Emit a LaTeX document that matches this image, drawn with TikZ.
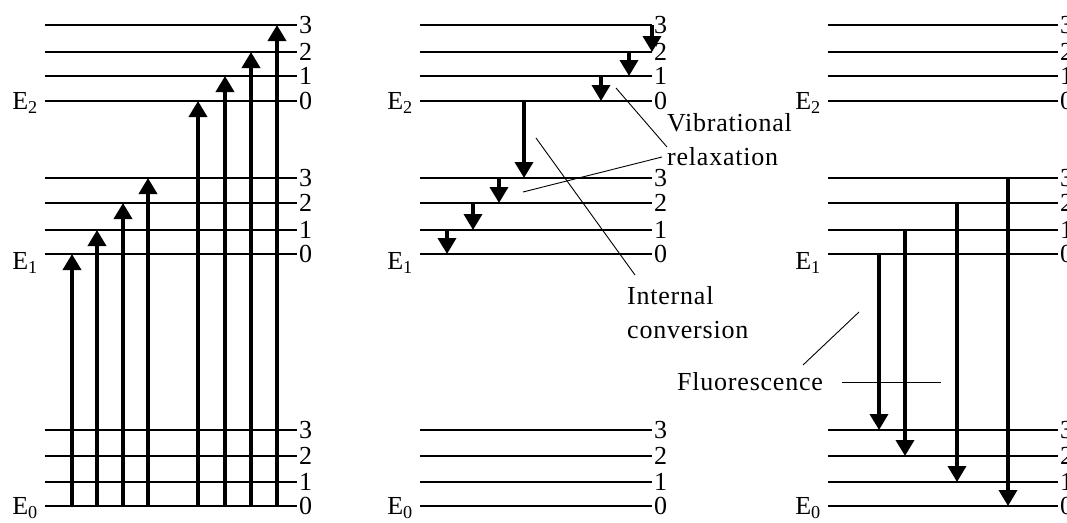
\documentclass[tikz,border=0pt]{standalone}
\usepackage{fontspec}
\setmainfont{Liberation Serif}[LetterSpace=3]
\usetikzlibrary{arrows.meta}

\begin{document}
\begin{tikzpicture}[x=1pt, y=-1pt,
    font=\fontsize{26}{34}\selectfont,
    level/.style={line width=1.8pt},
    vnum/.style={anchor=west, inner sep=0pt, xshift=2pt},
    ename/.style={anchor=east, inner sep=0pt, xshift=-7pt},
    trans/.style={line width=3.6pt, -{Triangle[width=18pt,length=16pt]}},
    leader/.style={line width=0.9pt},
    note/.style={align=left, inner sep=0pt, anchor=north west}
]

\useasboundingbox (0,0) rectangle (1067,522);

% vibrational levels of the three panels
\foreach \p/\l/\r in {a/45/297, b/420/652, c/828/1058} {
  \foreach \e/\v/\y in {2/3/25, 2/2/52, 2/1/76, 2/0/101,
                        1/3/178, 1/2/203, 1/1/230, 1/0/254,
                        0/3/430, 0/2/456, 0/1/482, 0/0/506} {
    \coordinate (\p\e\v) at (\l,\y);
    \coordinate (\p\e\v e) at (\r,\y);
    \draw[level] (\p\e\v) -- (\p\e\v e);
    \node[vnum] (\p\e\v n) at (\p\e\v e) {\v};
  }
  \foreach \e/\dy in {2/2, 1/9, 0/2}
    \node[ename, yshift=-\dy pt] (\p E\e) at (\p\e0) {E\textsubscript{\e}};
}

% absorption
\foreach \x/\to in {72/a10, 97/a11, 123/a12, 148/a13,
                    198/a20, 225/a21, 251/a22, 277/a23}
  \draw[trans] (a00 -| \x,0) -- (\to -| \x,0);

% relaxation
\foreach \x/\from/\to in {652/b23/b22, 629/b22/b21, 601/b21/b20,
                          524/b20/b13, 499/b13/b12, 473/b12/b11, 447/b11/b10}
  \draw[trans] (\from -| \x,0) -- (\to -| \x,0);

% emission
\foreach \x/\from/\to in {879/c10/c03, 905/c11/c02, 957/c12/c01, 1008/c13/c00}
  \draw[trans] (\from -| \x,0) -- (\to -| \x,0);

% labels
\node[note] (vib) at (667,113) {Vibrational\\relaxation};
\node[note] (ic) at (627,286) {Internal\\conversion};
\node[note] (fl) at (677,372) {Fluorescence};

\coordinate (vr1) at (616,88);
\coordinate (vr2) at (523,192);
\coordinate (vr1e) at (667,147);
\coordinate (vr2e) at (662,157);
\coordinate (ics) at (536,138);
\coordinate (ice) at (635,275);
\coordinate (fl1) at (803,365);
\coordinate (fl1e) at (859,312);
\coordinate (fl2) at (842,382);
\coordinate (fl2e) at (941,382);

\draw[leader] (vr1) -- (vr1e);
\draw[leader] (vr2) -- (vr2e);
\draw[leader] (ics) -- (ice);
\draw[leader] (fl1) -- (fl1e);
\draw[leader] (fl2) -- (fl2e);

\end{tikzpicture}
\end{document}
